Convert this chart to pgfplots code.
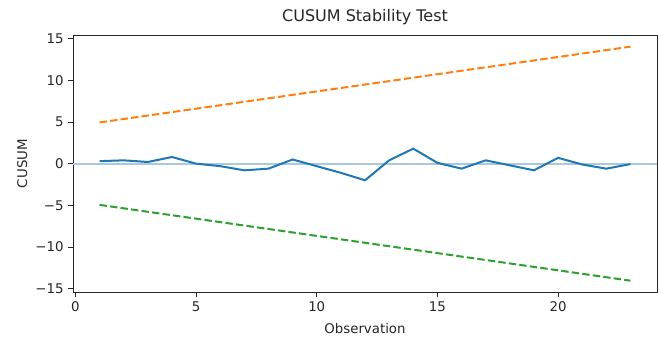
\documentclass[border=0pt]{standalone}
\usepackage{fontspec}
\setmainfont{DejaVu Sans}
\usepackage{pgfplots}
\pgfplotsset{compat=1.18}
\definecolor{c0}{HTML}{1F77B4}
\definecolor{c1}{HTML}{FF7F0E}
\definecolor{c2}{HTML}{2CA02C}
\definecolor{zl}{RGB}{170,200,222}
\begin{document}
\begin{tikzpicture}
\path[use as bounding box] (-54.75pt,-34.1pt) rectangle (439.5pt,219.25pt);
\begin{axis}[
  at={(0pt,0pt)}, anchor=south west,
  scale only axis, width=438pt, height=193pt,
  xmin=-0.1, xmax=24.1, ymin=-15.45, ymax=15.45,
  axis line style={line width=0.6pt, black!85},
  tick style={line width=0.6pt, black!85},
  tick align=outside, major tick length=3.5pt,
  xtick pos=lower, ytick pos=left,
  xtick={0,5,10,15,20}, xticklabels={0,5,10,15,20},
  ytick={-15,-10,-5,0,5,10,15},
  yticklabels={−15,−10,−5,0,5,10,15},
  ticklabel style={font=\fontsize{10}{12}\selectfont, text=black!85},
  title={CUSUM Stability Test},
  title style={font=\fontsize{12}{14}\selectfont, at={(axis description cs:0.5,1)}, anchor=base, yshift=4pt, text=black!85},
  xlabel={Observation},
  xlabel style={font=\fontsize{10}{12}\selectfont, at={(axis description cs:0.5,0)}, anchor=base, yshift=-31pt, text=black!85},
  ylabel={CUSUM},
  ylabel style={font=\fontsize{10}{12}\selectfont, at={(axis description cs:-0.0868,0.5)}, anchor=center, text=black!85},
  clip=true,
]
\addplot[zl, line width=1.5pt, forget plot] coordinates {(-0.1,0) (24.1,0)};
\addplot[c0, line width=1.5pt] coordinates {
(1,0.3) (2,0.4) (3,0.2) (4,0.8) (5,0.0) (6,-0.3) (7,-0.8) (8,-0.6) (9,0.5) (10,-0.3)
(11,-1.1) (12,-2.0) (13,0.4) (14,1.8) (15,0.1) (16,-0.6) (17,0.4) (18,-0.2) (19,-0.8)
(20,0.7) (21,-0.1) (22,-0.6) (23,-0.05)};
\addplot[c1, line width=1.5pt, dash pattern=on 5.55pt off 2.4pt] coordinates {(1,4.95) (23,14.05)};
\addplot[c2, line width=1.5pt, dash pattern=on 5.55pt off 2.4pt] coordinates {(1,-4.95) (23,-14.05)};
\end{axis}
\end{tikzpicture}
\end{document}
